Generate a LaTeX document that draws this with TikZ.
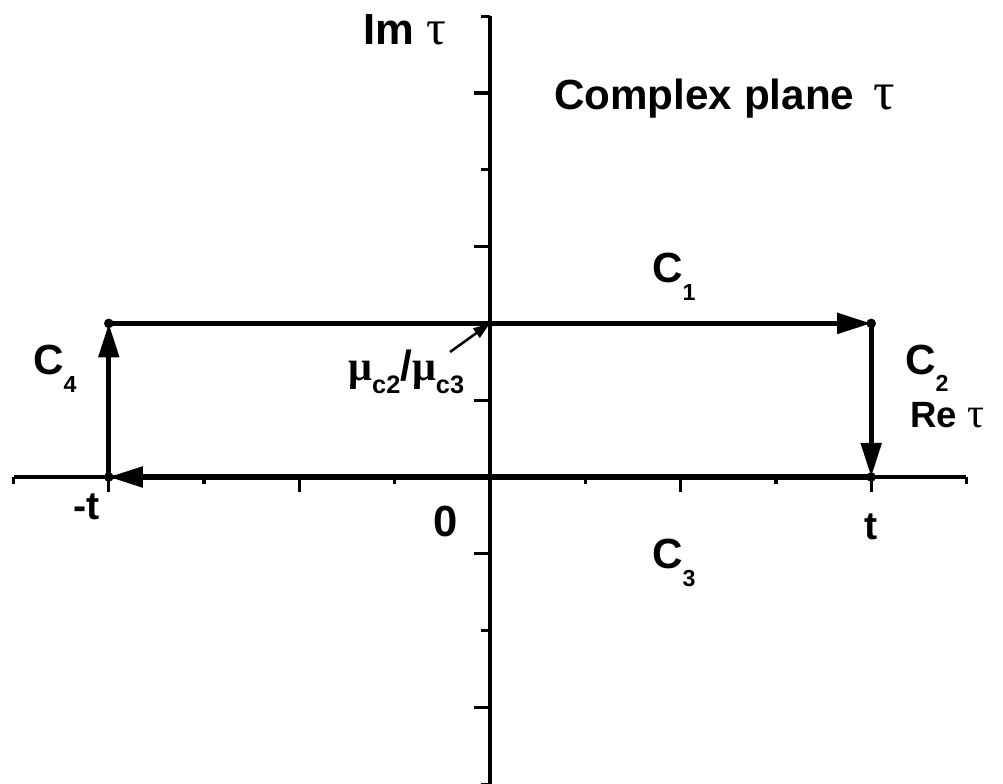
\documentclass[tikz,border=0pt]{standalone}
\usepackage{fontspec}
\setmainfont{Liberation Sans}
\newfontfamily\grk{Liberation Serif}
\usetikzlibrary{arrows.meta}
% #1 drop, #2 size, #3 text
\newcommand{\lowsub}[3]{\raisebox{-#1}{\fontsize{#2}{#2}\selectfont #3}}

\begin{document}
\begin{tikzpicture}[x=1cm,y=1cm,
  every node/.style={inner sep=0pt,font=\bfseries},
  axisline/.style={line width=2.2pt},
  contour/.style={line width=3.6pt,-{Triangle[length=0.85cm,width=0.5cm]}},
  pointer/.style={line width=1.8pt,-{Triangle[length=0.42cm,width=0.28cm]}},
  cornerdot/.style={fill,radius=0.12}]
\path[use as bounding box] (-12.25,-7.675) rectangle (12.825,11.925);
% axes
\draw[axisline] (-11.91,0) -- (11.91,0);
\draw[axisline] (0,-7.68) -- (0,11.52);
% ticks on Re axis
\draw[axisline] (-11.91,0) -- ++(0,-0.18) (-7.15,0) -- ++(0,-0.18) (-2.38,0) -- ++(0,-0.18)
  (2.38,0) -- ++(0,-0.18) (7.15,0) -- ++(0,-0.18) (11.91,0) -- ++(0,-0.18);
\draw[axisline] (-9.53,0) -- ++(0,-0.38) (-4.77,0) -- ++(0,-0.38) (0,0) -- ++(0,-0.38)
  (4.77,0) -- ++(0,-0.38) (9.53,0) -- ++(0,-0.38);
% ticks on Im axis
\draw[axisline] (0,-7.68) -- ++(-0.22,0) (0,-3.84) -- ++(-0.22,0) (0,3.84) -- ++(-0.22,0)
  (0,7.68) -- ++(-0.22,0) (0,11.52) -- ++(-0.22,0);
\draw[axisline] (0,-5.76) -- ++(-0.4,0) (0,-1.92) -- ++(-0.4,0) (0,1.92) -- ++(-0.4,0)
  (0,5.76) -- ++(-0.4,0) (0,9.60) -- ++(-0.4,0);
% contour corners
\coordinate (ll) at (-9.53,0);
\coordinate (lr) at (9.53,0);
\coordinate (ur) at (9.53,3.84);
\coordinate (ul) at (-9.53,3.84);
\coordinate (mid) at (0,3.84);
\coordinate (ptail) at (-1.0,3.125);
\draw[contour] (ul) -- (ur);
\draw[contour] (ur) -- (lr);
\draw[contour] (lr) -- (ll);
\draw[contour] (ll) -- (ul);
\fill[cornerdot] (ul) circle;
\fill[cornerdot] (ur) circle;
\fill[cornerdot] (lr) circle;
\fill[cornerdot] (ll) circle;
\draw[pointer] (ptail) -- (mid);
% labels
\node[anchor=base] (imlab) at (-2.125,10.8) {\fontsize{31}{31}\selectfont Im {\grk\mdseries\fontsize{35}{35}\selectfont τ}};
\node[anchor=base west] (title) at (1.6,9.175) {\fontsize{30}{30}\selectfont Complex plane\, {\grk\mdseries\fontsize{38}{38}\selectfont τ}};
\node[anchor=base west] (cone) at (4.05,4.85) {\fontsize{30}{30}\selectfont C\lowsub{12.5pt}{16.5}{1}};
\node[anchor=base west] (ctwo) at (10.375,2.55) {\fontsize{30}{30}\selectfont C\lowsub{11.5pt}{16.5}{2}};
\node[anchor=base west] (relab) at (10.5,1.225) {\fontsize{26}{26}\selectfont Re {\grk\mdseries\fontsize{30}{30}\selectfont τ}};
\node[anchor=base west] (cthree) at (4.05,-2.3) {\fontsize{30}{30}\selectfont C\lowsub{12.5pt}{16.5}{3}};
\node[anchor=base west] (cfour) at (-11.425,2.55) {\fontsize{30}{30}\selectfont C\lowsub{12.5pt}{16.5}{4}};
\node[anchor=base] (mtlab) at (-10.075,-1.075) {\fontsize{28}{28}\selectfont -t};
\node[anchor=base] (zero) at (-1.1,-1.5) {\fontsize{31}{31}\selectfont 0};
\node[anchor=base] (tlab) at (9.525,-1.575) {\fontsize{28}{28}\selectfont t};
\node[anchor=base west] (mu) at (-3.55,2.4) {\fontsize{30}{30}\selectfont {\grk μ}\lowsub{9pt}{18}{c2}/{\grk μ}\lowsub{9pt}{18}{c3}};
\end{tikzpicture}
\end{document}
